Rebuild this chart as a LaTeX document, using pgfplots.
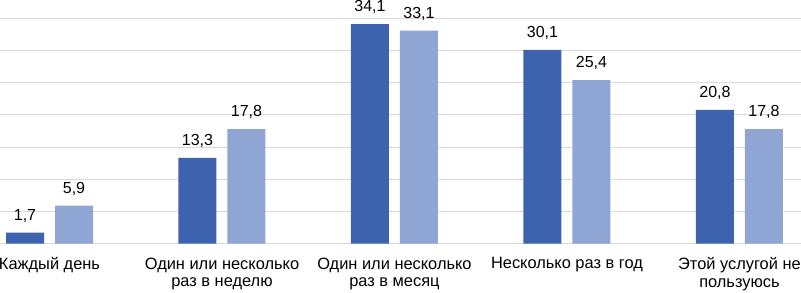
\documentclass[border=0pt]{standalone}
\usepackage{pgfplots}
\pgfplotsset{compat=1.18}
\usepackage{fontspec}
\setmainfont{Liberation Sans}
\definecolor{darkbar}{HTML}{3D63AE}
\definecolor{lightbar}{HTML}{8FA5D4}
\definecolor{gridc}{HTML}{D9D9D9}
\begin{document}
\begin{tikzpicture}
\clip (0,-49.5bp) rectangle (801bp,243.5bp);
\begin{axis}[
  at={(0,0)}, anchor=south west,
  width=801bp, height=243.5bp, scale only axis,
  xmin=-0.287, xmax=4.357, ymin=0, ymax=37.87,
  ybar=11bp, bar width=38bp,
  axis line style={draw=none},
  ytick={0,5,...,35}, yticklabels={},
  ymajorgrids, grid style={gridc, line width=1bp},
  major tick length=0pt,
  xtick={0,1,2,3,4},
  xticklabels={Каждый день, {Один или несколько\\раз в неделю}, {Один или несколько\\раз в месяц}, Несколько раз в год, {Этой услугой не\\пользуюсь}},
  xticklabel style={font=\fontsize{16.4bp}{17.8bp}\selectfont, align=center, anchor=north, inner sep=0pt, yshift=-14bp},
  nodes near coords,
  /pgf/number format/.cd, use comma, fixed, fixed zerofill, precision=1, assume math mode=true,
  /pgfplots/.cd,
  every node near coord/.append style={font=\fontsize{16bp}{18bp}\selectfont, anchor=base, inner sep=0pt, yshift=12.3bp, black},
]
\addplot[fill=darkbar, draw=none] coordinates {(0,1.7) (1,13.3) (2,34.1) (3,30.1) (4,20.8)};
\addplot[fill=lightbar, draw=none] coordinates {(0,5.9) (1,17.8) (2,33.1) (3,25.4) (4,17.8)};
\end{axis}
\end{tikzpicture}
\end{document}
